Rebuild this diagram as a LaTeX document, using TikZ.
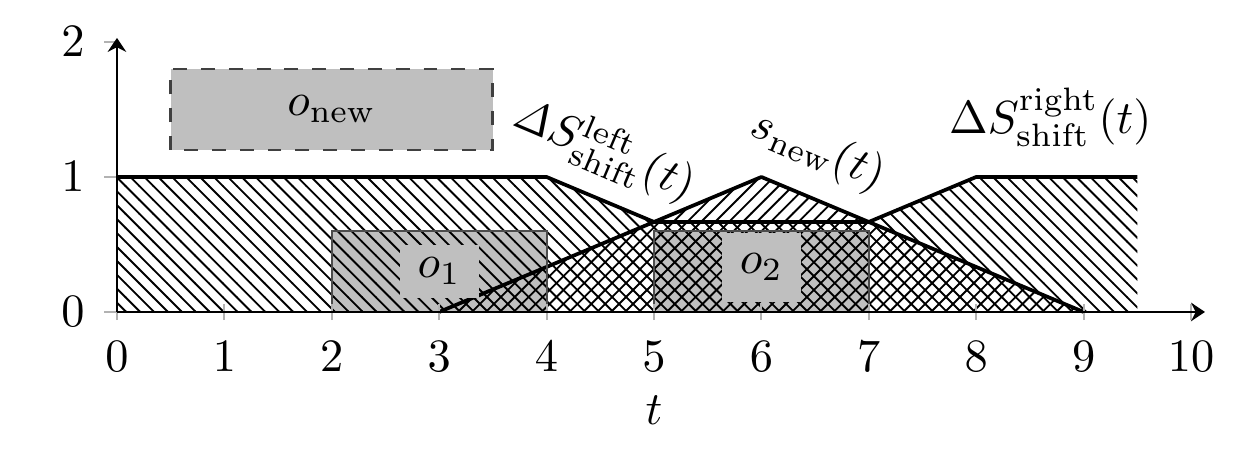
\documentclass[tikz,border=0pt]{standalone}
\usepackage{amsmath}
\usetikzlibrary{patterns, arrows.meta}

\begin{document}
\begin{tikzpicture}[x=0.814cm, y=1.023cm,
		border/.style={thick, line join=round},
		slot/.style={fill=gray!50, draw=black!70},
		slotlabel/.style={fill=gray!50, inner sep=1pt, minimum width=0.6cm}]
			\def\tMAX{10};
			\def\yMAX{2};
			\def\third{0.6667};

			\useasboundingbox (-1.089,-1.126) rectangle (10.605,2.311);

			% occupied slots
			\begin{scope}
				\filldraw[slot] (2,0) rectangle (4,0.6);
				\filldraw[slot] (5,0) rectangle (7,0.6);
			\end{scope}

			% shifted and new profiles
			\begin{scope}
				\fill[pattern=north west lines] (0,0) -- (0,1) -- (4,1) -- (5,\third) -- (7,\third) -- (9,0) -- cycle;
				\fill[pattern=north east lines] (3,0) -- (6,1) -- (9,0) -- cycle;
				\fill[pattern=north west lines] (7,\third) -- (8,1) -- (9.5,1) -- (9.5,0) -- (9,0) -- cycle;
			\end{scope}

			\begin{scope}[border]
				\draw (0,1) -- (4,1) -- (5,\third) -- (7,\third) -- (8,1) -- (9.5,1);
				\draw (3,0) -- (6,1) -- (9,0);
			\end{scope}

			\begin{scope}[black!70]
				\draw (2,0) rectangle (4,0.6);
				\draw (5,0) rectangle (7,0.6);
			\end{scope}

			\node[slotlabel, minimum height=0.4cm] (oone) at (3,0.3) {$o_1$};
			\node[slotlabel, minimum height=0.52cm] (otwo) at (6,0.33) {$o_2$};

			% new order
			\filldraw[fill=gray!50, draw=black!75, semithick, dashed] (0.5,1.2) rectangle (3.5,1.8);
			\node (onew) at (2,1.5) {$o_{\mathrm{new}}$};

			\node[rotate=-23] (leftshift) at (4.54,1.2) {$\mathit{\Delta} S^{\mathrm{left}}_{\mathrm{shift}}(t)$};
			\node[rotate=-23] (snew) at (6.53,1.19) {$s_{\mathrm{new}}(t)$};
			\node (rightshift) at (8.69,1.44) {$\Delta S^{\mathrm{right}}_{\mathrm{shift}}(t)$};

			% axes
			\begin{scope}[gray!60]
				\foreach \x in {0,...,\tMAX}
				{
					\draw (\x,-0.06) -- (\x,0.06);
				}
				\foreach \y in {0,...,\yMAX}
				{
					\draw (-0.12,\y) -- (0,\y);
				}
			\end{scope}

			\begin{scope}[-{Stealth[length=3pt, width=4pt, inset=1pt]}, semithick]
				\draw (0,0) -- (10.13,0);
				\draw (0,0) -- (0,2.03);
			\end{scope}

			\foreach \x in {0,...,\tMAX}
			{
				\node[below] (xt\x) at (\x,-0.1) {$\x$};
			}
			\foreach \y in {0,...,\yMAX}
			{
				\node[left] (yt\y) at (-0.15,\y) {$\y$};
			}
			\node (tlabel) at (5,-0.73) {$t$};
		\end{tikzpicture}
\end{document}
